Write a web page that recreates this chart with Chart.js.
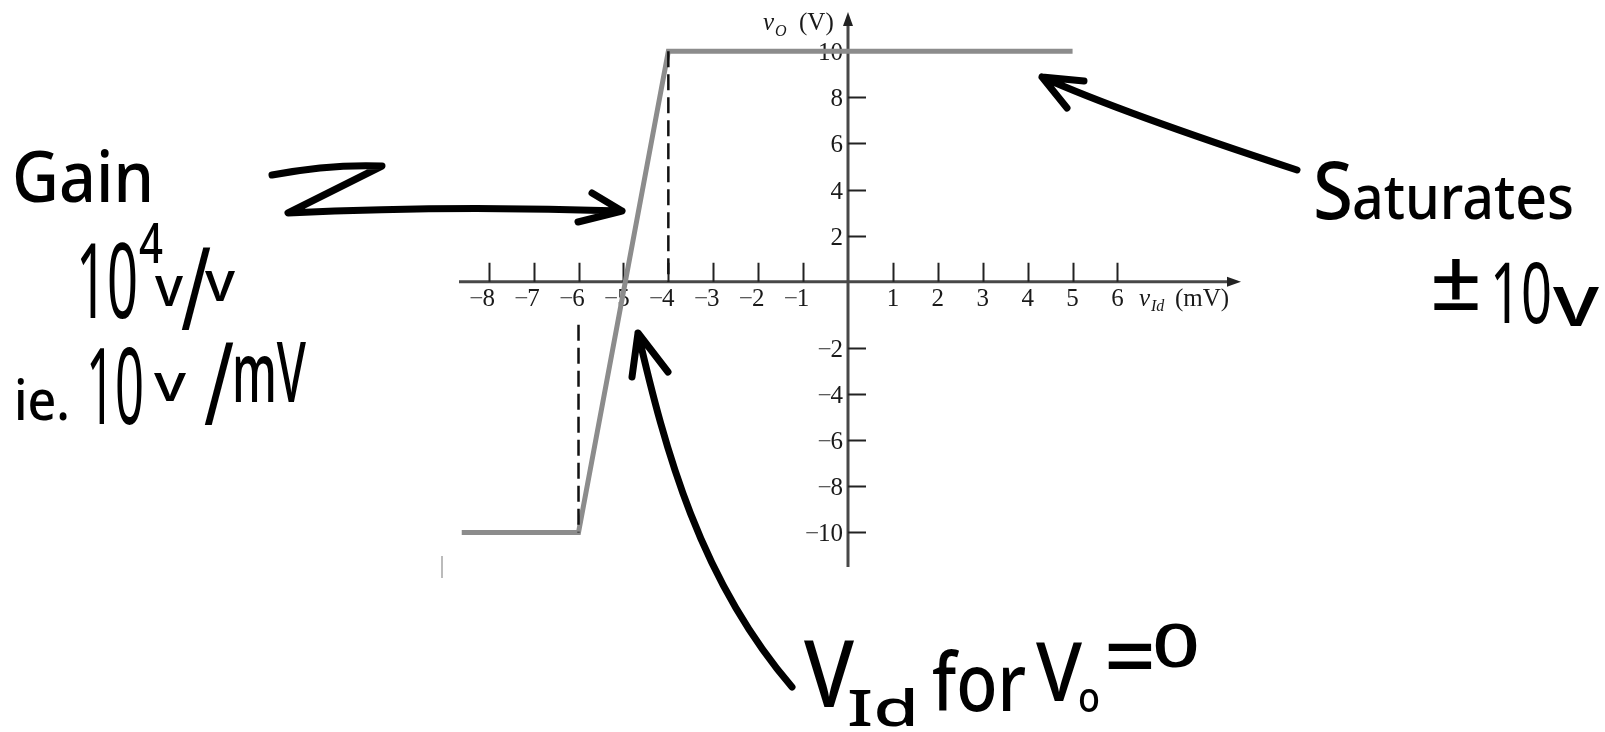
<!DOCTYPE html>
<html>
<head>
<meta charset="utf-8">
<title>Op-amp transfer characteristic</title>
<script src="https://cdn.jsdelivr.net/npm/chart.js@4.4.1/dist/chart.umd.min.js"></script>
<style>
  html, body { margin: 0; padding: 0; background: #fff; }
  #wrap { width: 1605px; height: 732px; position: relative; }
</style>
</head>
<body>
<div id="wrap"><canvas id="chart"></canvas></div>
<script>
// transfer curve: differential input (mV) vs output (V)
const vId = [-8.6, -6, -4, 5];
const vO = [-10, -10, 10, 10];

// dashed drop lines at the two break points
const dropX = [-4, -6];
const dropTop = [10, -1];
const dropBottom = [0, -10];

const xTicks = [-8, -7, -6, -5, -4, -3, -2, -1, 1, 2, 3, 4, 5, 6];
const yTicks = [10, 8, 6, 4, 2, -2, -4, -6, -8, -10];

// linear scale that leaves a blank band below zero for the x tick labels
class SplitLinearScale extends Chart.LinearScale {
  unit() {
    const gap = this.options.gap || 0;
    return (this.height - gap) / (this.max - this.min);
  }
  getPixelForValue(value) {
    const gap = this.options.gap || 0;
    const px = this.top + (this.max - value) * this.unit();
    return value < 0 ? px + gap : px;
  }
  getValueForPixel(pixel) {
    const gap = this.options.gap || 0;
    const u = this.unit();
    const zero = this.top + this.max * u;
    const p = pixel > zero ? Math.max(zero, pixel - gap) : pixel;
    return this.max - (p - this.top) / u;
  }
}
SplitLinearScale.id = 'splitLinear';
SplitLinearScale.defaults = Chart.LinearScale.defaults;
Chart.register(SplitLinearScale);

const SERIF = '"Liberation Serif", "DejaVu Serif", serif';
const HAND = '"Noto Sans", "Open Sans", sans-serif';

const axesPlugin = {
  id: 'axes',
  beforeDatasetsDraw(chart) {
    const { ctx, scales: { x, y } } = chart;
    const x0 = x.getPixelForValue(0);
    const y0 = y.getPixelForValue(0);
    ctx.save();

    // axis lines
    ctx.strokeStyle = '#484848';
    ctx.lineWidth = 3;
    ctx.beginPath();
    ctx.moveTo(x.left + 4, y0);
    ctx.lineTo(x.right - 8, y0);
    ctx.moveTo(x0, y.top + 8);
    ctx.lineTo(x0, y.bottom);
    ctx.stroke();

    // arrowheads
    ctx.fillStyle = '#222';
    ctx.beginPath();
    ctx.moveTo(x.right, y0);
    ctx.lineTo(x.right - 14, y0 - 5);
    ctx.lineTo(x.right - 14, y0 + 5);
    ctx.closePath();
    ctx.fill();
    ctx.beginPath();
    ctx.moveTo(x0, y.top);
    ctx.lineTo(x0 - 5, y.top + 14);
    ctx.lineTo(x0 + 5, y.top + 14);
    ctx.closePath();
    ctx.fill();

    // tick marks
    ctx.strokeStyle = '#222';
    ctx.lineWidth = 2;
    ctx.beginPath();
    xTicks.forEach(v => {
      const px = Math.round(x.getPixelForValue(v)) + 0.5;
      ctx.moveTo(px, y0 - 19);
      ctx.lineTo(px, y0);
    });
    yTicks.forEach(v => {
      const py = Math.round(y.getPixelForValue(v)) + 0.5;
      ctx.moveTo(x0, py);
      ctx.lineTo(x0 + 18, py);
    });
    ctx.stroke();

    // x tick labels: digits centred on the tick, minus hanging to the left
    ctx.font = '25px ' + SERIF;
    ctx.textBaseline = 'alphabetic';
    xTicks.forEach(v => {
      const px = x.getPixelForValue(v);
      const digits = String(Math.abs(v));
      const w = ctx.measureText(digits).width;
      ctx.fillStyle = '#1a1a1a';
      ctx.textAlign = 'left';
      ctx.fillText(digits, px - w / 2, y0 + 24);
      if (v < 0) {
        ctx.fillStyle = '#555';
        ctx.textAlign = 'right';
        ctx.fillText('\u2212', px - w / 2 + 1, y0 + 24);
      }
    });

    // y tick labels, right aligned left of the axis
    yTicks.forEach(v => {
      const py = y.getPixelForValue(v);
      const digits = String(Math.abs(v));
      ctx.textAlign = 'right';
      ctx.fillStyle = '#1a1a1a';
      ctx.fillText(digits, x0 - 5, py + 9);
      if (v < 0) {
        const w = ctx.measureText(digits).width;
        ctx.fillStyle = '#555';
        ctx.fillText('\u2212', x0 - 4 - w, py + 9);
      }
    });

    // axis titles
    ctx.textAlign = 'left';
    ctx.fillStyle = '#1a1a1a';
    ctx.font = 'italic 25px ' + SERIF;
    ctx.fillText('v', x0 - 85, 30);
    ctx.fillText('v', x0 + 291, y0 + 24);
    ctx.font = 'italic 16px ' + SERIF;
    ctx.fillText('O', x0 - 73, 36);
    ctx.fillText('Id', x0 + 303, y0 + 29);
    ctx.font = '25px ' + SERIF;
    ctx.fillText('(V)', x0 - 49, 30);
    ctx.fillText('(mV)', x0 + 327, y0 + 24);

    // stray scan mark at lower left
    ctx.strokeStyle = '#bbb';
    ctx.lineWidth = 2;
    ctx.beginPath();
    ctx.moveTo(442, 556);
    ctx.lineTo(442, 578);
    ctx.stroke();
    ctx.restore();
  }
};

// marker lettering, stretched or squeezed to the given width
function hand(ctx, text, x, base, size, width, weight) {
  ctx.font = (weight || 500) + ' ' + size + 'px ' + HAND;
  const natural = ctx.measureText(text).width;
  ctx.save();
  ctx.translate(x, base);
  ctx.scale(width / natural, 1);
  ctx.fillText(text, 0, 0);
  ctx.restore();
}

const notesPlugin = {
  id: 'notes',
  afterDatasetsDraw(chart) {
    const { ctx } = chart;
    ctx.save();
    ctx.strokeStyle = '#000';
    ctx.fillStyle = '#000';
    ctx.lineWidth = 7;
    ctx.lineCap = 'round';
    ctx.lineJoin = 'round';

    // zig-zag arrow to the slope
    ctx.beginPath();
    ctx.moveTo(272, 175);
    ctx.quadraticCurveTo(330, 164, 382, 166);
    ctx.lineTo(288, 213);
    ctx.quadraticCurveTo(450, 205, 622, 211);
    ctx.moveTo(592, 193);
    ctx.lineTo(622, 211);
    ctx.lineTo(578, 222);
    ctx.stroke();

    // arrow to the upper saturation level
    ctx.beginPath();
    ctx.moveTo(1297, 170);
    ctx.quadraticCurveTo(1120, 112, 1042, 77);
    ctx.moveTo(1084, 81);
    ctx.lineTo(1042, 77);
    ctx.lineTo(1067, 108);
    ctx.stroke();

    // curved arrow to the zero crossing
    ctx.beginPath();
    ctx.moveTo(792, 687);
    ctx.bezierCurveTo(700, 580, 665, 450, 638, 333);
    ctx.moveTo(632, 377);
    ctx.lineTo(638, 333);
    ctx.lineTo(668, 372);
    ctx.stroke();

    ctx.textAlign = 'left';
    ctx.textBaseline = 'alphabetic';

    hand(ctx, 'Gain', 12, 202, 70, 142);
    hand(ctx, '10', 76, 318, 104, 62, 400);
    hand(ctx, '4', 139, 263, 56, 24);
    hand(ctx, 'v', 155, 306, 56, 28);
    hand(ctx, '/', 181, 330, 116, 30, 400);
    hand(ctx, 'v', 205, 301, 56, 30);

    hand(ctx, 'ie.', 14, 420, 56, 56);
    hand(ctx, '10', 86, 424, 106, 58, 400);
    hand(ctx, 'v', 154, 401, 52, 32);
    hand(ctx, '/', 204, 425, 116, 30, 400);
    hand(ctx, 'mV', 232, 402, 84, 74);

    hand(ctx, 'S', 1313, 219, 80, 40);
    hand(ctx, 'aturates', 1352, 219, 62, 222);
    hand(ctx, '\u00b1', 1430, 310, 84, 52);
    hand(ctx, '10', 1490, 323, 84, 62, 400);
    hand(ctx, 'v', 1553, 326, 72, 46);

    hand(ctx, 'V', 804, 707, 92, 50);
    hand(ctx, 'Id', 847, 726, 50, 72);
    hand(ctx, 'for', 932, 711, 80, 94);
    hand(ctx, 'V', 1036, 701, 82, 46);
    hand(ctx, 'o', 1078, 712, 42, 22);
    hand(ctx, '=', 1104, 688, 90, 52);
    hand(ctx, '0', 1152, 667, 60, 48);
    ctx.restore();
  }
};

const curve = vId.map((v, i) => ({ x: v, y: vO[i] }));
const drops = dropX.map((v, i) => ({
  data: [{ x: v, y: dropTop[i] }, { x: v, y: dropBottom[i] }],
  borderColor: '#111',
  borderWidth: 2.5,
  borderDash: [16, 7],
  pointRadius: 0,
  showLine: true
}));

new Chart(document.getElementById('chart').getContext('2d'), {
  type: 'scatter',
  data: {
    datasets: [
      ...drops,
      {
        label: 'vO',
        data: curve,
        borderColor: '#8c8c8c',
        borderWidth: 5,
        pointRadius: 0,
        showLine: true,
        tension: 0
      }
    ]
  },
  options: {
    responsive: true,
    maintainAspectRatio: false,
    animation: false,
    events: [],
    layout: { padding: { left: 455, right: 364, top: 12, bottom: 165 } },
    plugins: { legend: { display: false }, tooltip: { enabled: false } },
    scales: {
      x: { type: 'linear', min: -8.75, max: 8.75, display: false },
      y: { type: 'splitLinear', min: -11.5, max: 11.7, gap: 20, display: false }
    }
  },
  plugins: [axesPlugin, notesPlugin]
});
</script>
</body>
</html>
